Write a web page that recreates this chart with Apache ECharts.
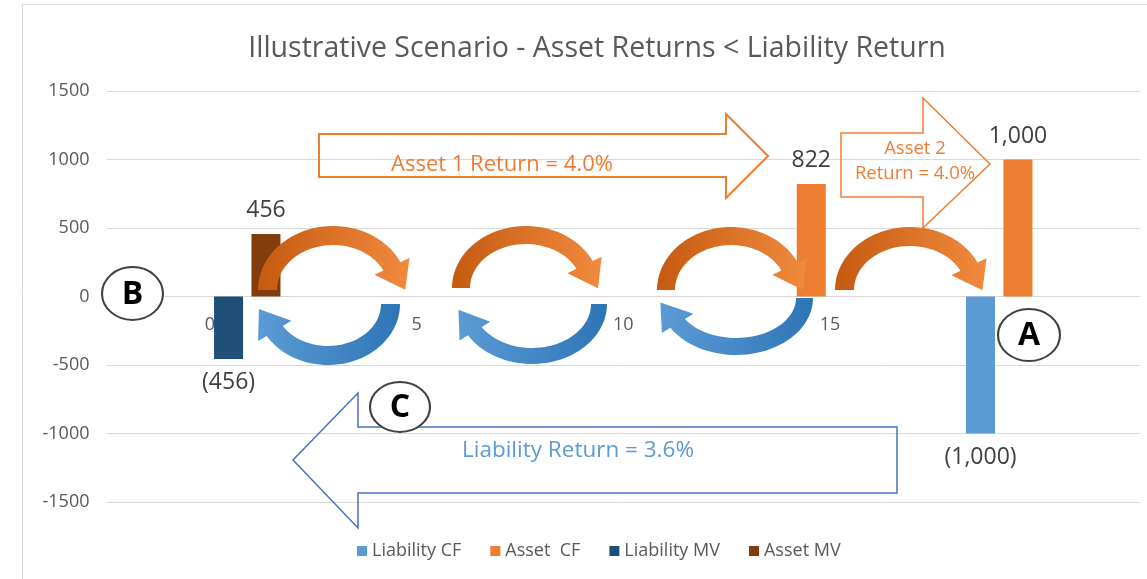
<!DOCTYPE html>
<html>
<head>
<meta charset="utf-8">
<script src="https://cdn.jsdelivr.net/npm/echarts@6/dist/echarts.min.js"></script>
<style>
html,body{margin:0;padding:0;background:#fff;}
#chart{width:1147px;height:579px;}
</style>
</head>
<body>
<div id="chart"></div>
<script>
// ---- data ----
const categories = [-2,-1,0,1,2,3,4,5,6,7,8,9,10,11,12,13,14,15,16,17,18,19,20,21,22];
const xTickLabels = ['0','5','10','15','20'];
const seriesNames = ['Liability CF','Asset  CF','Liability MV','Asset MV'];
const liabilityCF = [null,null,null,null,null,null,null,null,null,null,null,null,null,null,null,null,null,null,null,null,null,null,-1000,null,null];
const assetCF     = [null,null,null,null,null,null,null,null,null,null,null,null,null,null,null,null,null,822,null,null,null,null,1000,null,null];
const liabilityMV = [null,null,-456,null,null,null,null,null,null,null,null,null,null,null,null,null,null,null,null,null,null,null,null,null,null];
const assetMV     = [null,null,456,null,null,null,null,null,null,null,null,null,null,null,null,null,null,null,null,null,null,null,null,null,null];
const yMin = -1500, yMax = 1500, yStep = 500;
const titleText = 'Illustrative Scenario - Asset Returns < Liability Return';
const asset1Text = 'Asset 1 Return = 4.0%';
const asset2Text = 'Asset 2\nReturn = 4.0%';
const liabText = 'Liability Return = 3.6%';

const FONT = '"Open Sans", "Noto Sans", sans-serif';
const colors = ['#5b9bd5','#ed7d31','#1f4e79','#843c0c'];

function fmt(v){
  const s = Math.abs(v).toLocaleString('en-US');
  return v < 0 ? '(' + s + ')' : s;
}

function curvedArrow(cx, by, R, H, t, flip, the, w, L, grad){
  const pts = [];
  const N = 40, th0 = Math.PI;
  for (let i=0;i<=N;i++){ const th = th0 + (the-th0)*i/N; pts.push([R*Math.cos(th), -H*Math.sin(th)]); }
  const Po = [R*Math.cos(the), -H*Math.sin(the)];
  const Pi = [(R-t)*Math.cos(the), -(H-t)*Math.sin(the)];
  let n = [Po[0]-Pi[0], Po[1]-Pi[1]]; const nl = Math.hypot(n[0],n[1]); n=[n[0]/nl,n[1]/nl];
  const mid = [(Po[0]+Pi[0])/2,(Po[1]+Pi[1])/2];
  let tg = [R*Math.sin(the), H*Math.cos(the)]; const tl = Math.hypot(tg[0],tg[1]); tg=[tg[0]/tl,tg[1]/tl];
  pts.push([Po[0]+n[0]*w, Po[1]+n[1]*w]);
  pts.push([mid[0]+tg[0]*L, mid[1]+tg[1]*L]);
  pts.push([Pi[0]-n[0]*w, Pi[1]-n[1]*w]);
  for (let i=N;i>=0;i--){ const th = th0 + (the-th0)*i/N; pts.push([(R-t)*Math.cos(th), -(H-t)*Math.sin(th)]); }
  const s = flip ? -1 : 1;
  return {
    type:'polygon', z:100,
    shape:{points: pts.map(p=>[cx + s*p[0], by + s*p[1]])},
    style:{fill:{type:'linear',x:0,y:0,x2:1,y2:0,colorStops:[{offset:0,color:grad[0]},{offset:1,color:grad[1]}]}}
  };
}

function badge(cx, cy, rx, ry, letter){
  return [
    {type:'circle', z:110, x:cx, y:cy, scaleX: rx/ry, shape:{cx:0,cy:0,r:ry}, style:{fill:'#fff', stroke:'#404040', lineWidth:1.8}},
    {type:'text', z:111, x:cx, y:cy+1, style:{text:letter, fill:'#000', font:'bold 32px ' + FONT, textAlign:'center', textVerticalAlign:'middle'}}
  ];
}

const orangeGrad = ['#c55a11','#f08a3e'];
const blueGrad = ['#5b9bd5','#2e75b6'];

const graphics = [
  // chart border
  {type:'line', z:1, shape:{x1:22,y1:4.5,x2:1147,y2:4.5}, style:{stroke:'#d9d9d9', lineWidth:1}},
  {type:'line', z:1, shape:{x1:22.5,y1:4,x2:22.5,y2:579}, style:{stroke:'#d9d9d9', lineWidth:1}},
  // orange arcs
  curvedArrow(333, 290, 75, 64, 19, false, 0.45, 10, 27, orangeGrad),
  curvedArrow(526, 288, 74, 62, 18, false, 0.45, 10, 27, orangeGrad),
  curvedArrow(731, 290, 74, 63, 18, false, 0.45, 10, 27, orangeGrad),
  curvedArrow(910, 290, 75, 63, 19, false, 0.45, 10, 27, orangeGrad),
  // blue arcs
  curvedArrow(328, 304, 72, 61, 19, true, 0.55, 10, 27, blueGrad),
  curvedArrow(532, 304, 75, 60, 16, true, 0.55, 10, 27, blueGrad),
  curvedArrow(736, 298, 77, 57, 17, true, 0.55, 10, 27, blueGrad),
  // block arrows
  {type:'polygon', z:90, shape:{points:[[319,134],[726,134],[726,114],[768,156],[726,198],[726,177],[319,177]]}, style:{fill:'none', stroke:'#ed7d31', lineWidth:2}},
  {type:'text', z:91, x:502, y:165, style:{text:asset1Text, fill:'#ed7d31', font:'22px ' + FONT, textAlign:'center', textVerticalAlign:'middle'}},
  {type:'polygon', z:90, shape:{points:[[841,133],[923,133],[923,98],[990,164],[923,228],[923,197],[841,197]]}, style:{fill:'none', stroke:'#ed7d31', lineWidth:1.5}},
  {type:'text', z:91, x:915, y:161, style:{text:asset2Text, fill:'#ed7d31', font:'18.5px ' + FONT, textAlign:'center', textVerticalAlign:'middle', lineHeight:25}},
  {type:'polygon', z:90, shape:{points:[[897,427],[358,427],[358,393],[293,460],[358,528],[358,493],[897,493]]}, style:{fill:'none', stroke:'#4472c4', lineWidth:1.5}},
  {type:'text', z:91, x:578, y:451, style:{text:liabText, fill:'#5b9bd5', font:'22.5px ' + FONT, textAlign:'center', textVerticalAlign:'middle'}},
].concat(badge(1029,335,31,26,'A'), badge(132.5,293.5,30.5,26.5,'B'), badge(400,407,30,25,'C'));

const seriesData = [liabilityCF, assetCF, liabilityMV, assetMV];
const chart = echarts.init(document.getElementById('chart'), null, {renderer:'canvas'});
chart.setOption({
  animation:false,
  backgroundColor:'#fff',
  textStyle:{fontFamily:FONT},
  title:{text:titleText, left:592, top:29, textAlign:'center',
    textStyle:{fontFamily:FONT, fontSize:28.5, fontWeight:'normal', color:'#595959'}},
  legend:{data:seriesNames, left:352, top:537, icon:'rect', itemWidth:10, itemHeight:10, itemGap:29,
    textStyle:{fontFamily:FONT, fontSize:18, color:'#595959'}},
  grid:{left:106.5, right:7, top:91, bottom:77, containLabel:false},
  xAxis:{type:'category', data:categories, boundaryGap:true,
    axisLine:{show:false, onZero:false}, axisTick:{show:false}, splitLine:{show:false},
    axisLabel:{interval:0, margin:-186, color:'#595959', fontSize:18, fontFamily:FONT,
      formatter:(v)=> xTickLabels.indexOf(String(v))>=0 ? String(v) : ''}},
  yAxis:{type:'value', min:yMin, max:yMax, interval:yStep,
    axisLine:{show:false}, axisTick:{show:false},
    splitLine:{lineStyle:{color:'#d9d9d9', width:1}},
    axisLabel:{margin:17, color:'#595959', fontSize:18, fontFamily:FONT, formatter:(v)=>String(v)}},
  series: seriesNames.map((name,i)=>({
    name, type:'bar', data:seriesData[i], barWidth:29, barGap:'29%',
    itemStyle:{color:colors[i]},
    label:{show:true, position: (i===0||i===2)?'bottom':'top', distance:12,
      fontFamily:FONT, fontSize:23, color:'#404040',
      formatter:(p)=> p.value==null ? '' : fmt(p.value)}
  })),
  graphic: graphics
});
</script>
</body>
</html>
